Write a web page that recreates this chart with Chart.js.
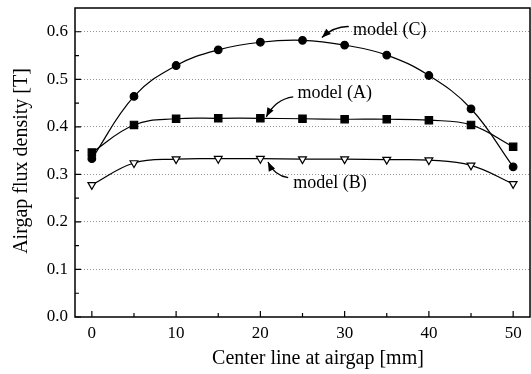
<!DOCTYPE html>
<html>
<head>
<meta charset="utf-8">
<script src="https://cdn.jsdelivr.net/npm/chart.js@4/dist/chart.umd.min.js"></script>
<style>
  html, body { margin: 0; padding: 0; background: #fff; }
  #wrap { width: 531px; height: 374px; }
</style>
</head>
<body>
<div id="wrap"><canvas id="fluxChart"></canvas></div>
<script>
// Data
const positions = [0, 5, 10, 15, 20, 25, 30, 35, 40, 45, 50];
const modelA = [0.346, 0.404, 0.417, 0.418, 0.418, 0.417, 0.416, 0.416, 0.414, 0.404, 0.358];
const modelB = [0.278, 0.324, 0.332, 0.333, 0.333, 0.332, 0.332, 0.331, 0.330, 0.319, 0.280];
const modelC = [0.333, 0.464, 0.529, 0.562, 0.578, 0.582, 0.572, 0.551, 0.508, 0.438, 0.316];
const xTicks = [0, 10, 20, 30, 40, 50];
const yTicks = [0.0, 0.1, 0.2, 0.3, 0.4, 0.5, 0.6];

const serif = '"Liberation Serif", "DejaVu Serif", serif';

// label text + arrow (in data units)
const notes = [
    { text: 'model (C)', at: [31.0, 0.604], from: [30.5, 0.611], ctrl: [28.8, 0.612], to: [27.3, 0.588] },
    { text: 'model (A)', at: [24.4, 0.470], from: [23.9, 0.463], ctrl: [21.8, 0.458], to: [20.7, 0.421] },
    { text: 'model (B)', at: [23.9, 0.281], from: [23.3, 0.293], ctrl: [21.7, 0.297], to: [20.9, 0.326] }
];

const pts = (arr) => positions.map((x, i) => ({ x: x, y: arr[i] }));

// frame, inside ticks, tick labels, axis titles, notes
const decorations = {
    id: 'decorations',
    afterDatasetsDraw(chart) {
        const ctx = chart.ctx;
        const area = chart.chartArea;
        const xs = chart.scales.x;
        const ys = chart.scales.y;
        ctx.save();
        ctx.strokeStyle = '#000';
        ctx.lineWidth = 1.5;
        ctx.strokeRect(area.left, area.top, area.right - area.left, area.bottom - area.top);

        ctx.lineWidth = 1.2;
        ctx.beginPath();
        for (let v = 0; v <= 50; v += 5) {
            const px = xs.getPixelForValue(v);
            const len = v % 10 === 0 ? 6 : 4;
            ctx.moveTo(px, area.bottom);
            ctx.lineTo(px, area.bottom - len);
        }
        for (let k = 0; k <= 12; k++) {
            const py = ys.getPixelForValue(k * 0.05);
            const len = k % 2 === 0 ? 6 : 4;
            ctx.moveTo(area.left, py);
            ctx.lineTo(area.left + len, py);
        }
        ctx.stroke();

        // tick labels
        ctx.fillStyle = '#000';
        ctx.font = '17px ' + serif;
        ctx.textAlign = 'center';
        ctx.textBaseline = 'top';
        for (const v of xTicks) {
            ctx.fillText(String(v), xs.getPixelForValue(v), area.bottom + 8);
        }
        ctx.textAlign = 'right';
        ctx.textBaseline = 'middle';
        for (const v of yTicks) {
            ctx.fillText(v.toFixed(1), area.left - 7, ys.getPixelForValue(v));
        }

        // axis titles
        ctx.font = '20px ' + serif;
        ctx.textAlign = 'center';
        ctx.fillText('Center line at airgap [mm]', 318, 359);
        ctx.save();
        ctx.translate(22, 161);
        ctx.rotate(-Math.PI / 2);
        ctx.fillText('Airgap flux density [T]', 0, 0);
        ctx.restore();

        // model labels with arrows
        ctx.font = '18px ' + serif;
        ctx.textAlign = 'left';
        for (const n of notes) {
            ctx.fillText(n.text, xs.getPixelForValue(n.at[0]), ys.getPixelForValue(n.at[1]));
            const fx = xs.getPixelForValue(n.from[0]), fy = ys.getPixelForValue(n.from[1]);
            const cx = xs.getPixelForValue(n.ctrl[0]), cy = ys.getPixelForValue(n.ctrl[1]);
            const tx = xs.getPixelForValue(n.to[0]), ty = ys.getPixelForValue(n.to[1]);
            ctx.lineWidth = 1.3;
            ctx.beginPath();
            ctx.moveTo(fx, fy);
            ctx.quadraticCurveTo(cx, cy, tx, ty);
            ctx.stroke();
            const ang = Math.atan2(ty - cy, tx - cx);
            ctx.beginPath();
            ctx.moveTo(tx, ty);
            ctx.lineTo(tx - 9 * Math.cos(ang) + 3.5 * Math.sin(ang), ty - 9 * Math.sin(ang) - 3.5 * Math.cos(ang));
            ctx.lineTo(tx - 9 * Math.cos(ang) - 3.5 * Math.sin(ang), ty - 9 * Math.sin(ang) + 3.5 * Math.cos(ang));
            ctx.closePath();
            ctx.fill();
        }
        ctx.restore();
    }
};

const ctx = document.getElementById('fluxChart').getContext('2d');
new Chart(ctx, {
    type: 'line',
    data: {
        datasets: [
            {
                label: 'model (C)',
                data: pts(modelC),
                borderColor: '#000',
                backgroundColor: '#000',
                borderWidth: 1.2,
                pointStyle: 'circle',
                pointRadius: 3.8,
                tension: 0.4
            },
            {
                label: 'model (A)',
                data: pts(modelA),
                borderColor: '#000',
                backgroundColor: '#000',
                borderWidth: 1.2,
                pointStyle: 'rect',
                pointRadius: 5.2,
                tension: 0.4
            },
            {
                label: 'model (B)',
                data: pts(modelB),
                borderColor: '#000',
                backgroundColor: '#fff',
                borderWidth: 1.2,
                pointStyle: 'triangle',
                pointRotation: 180,
                pointRadius: 4.5,
                pointBorderWidth: 1.2,
                tension: 0.4
            }
        ]
    },
    options: {
        responsive: true,
        maintainAspectRatio: false,
        animation: false,
        layout: { autoPadding: false, padding: { left: 0, right: 1, top: 8, bottom: 0 } },
        plugins: {
            legend: { display: false },
            tooltip: { enabled: false }
        },
        scales: {
            x: {
                type: 'linear',
                min: -2,
                max: 52,
                afterBuildTicks: (scale) => { scale.ticks = xTicks.map(v => ({ value: v })); },
                afterFit: (scale) => { scale.height = 57; },
                grid: { display: false, drawTicks: false },
                border: { display: false },
                ticks: { display: false }
            },
            y: {
                type: 'linear',
                min: 0,
                max: 0.65,
                afterBuildTicks: (scale) => { scale.ticks = yTicks.map(v => ({ value: v })); },
                afterFit: (scale) => { scale.width = 75; },
                grid: {
                    drawTicks: false,
                    color: (c) => (c.tick && c.tick.value > 0 ? '#777' : 'rgba(0,0,0,0)'),
                    lineWidth: 0.8
                },
                border: { display: false, dash: [1, 2] },
                ticks: { display: false }
            }
        }
    },
    plugins: [decorations]
});
</script>
</body>
</html>
